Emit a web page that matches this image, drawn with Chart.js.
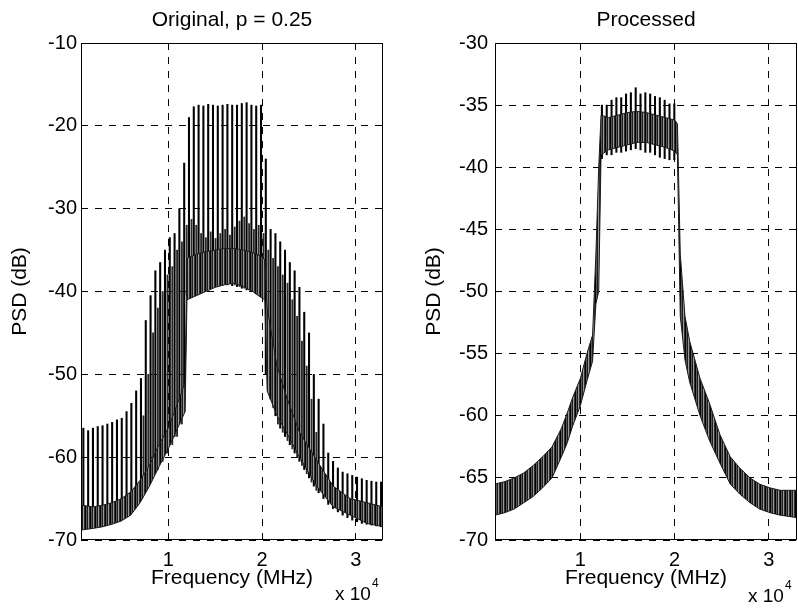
<!DOCTYPE html>
<html><head><meta charset="utf-8">
<script src="https://cdn.jsdelivr.net/npm/chart.js@4.4.1/dist/chart.umd.min.js"></script>
<style>
html,body{margin:0;padding:0;background:#fff;}
#w{position:relative;width:798px;height:609px;overflow:hidden;background:#fff}
.c{position:absolute;top:0;height:609px}
</style></head><body>
<div id="w">
<div class="c" style="left:0;width:400px"><canvas id="c1"></canvas></div>
<div class="c" style="left:400px;width:398px"><canvas id="c2"></canvas></div>
</div>
<script>
// ---- tick labels ----
const freqTicks = [10000, 20000, 30000];
const freqTickLabels = ['1', '2', '3'];
const origYTicks = [-70, -60, -50, -40, -30, -20, -10];
const procYTicks = [-70, -65, -60, -55, -50, -45, -40, -35, -30];

// ---- Original, p = 0.25 : dense noise band (lower / upper envelope) ----
const origBandFreq = [700, 2000, 3000, 4000, 5000, 6000, 7000, 8000, 9000, 10000, 11000, 11800, 12000, 13000, 14000, 15000, 16000, 17000, 18000, 19000, 20000, 20300, 20550, 21600, 22700, 24000, 25900, 27600, 29400, 31200, 32900];
const origBandLow  = [-68.8, -68.6, -68.4, -68.1, -67.7, -67.0, -65.5, -63.5, -61.2, -59.0, -56.5, -54.5, -41.0, -40.5, -40.0, -39.5, -39.2, -39.0, -39.4, -40.0, -40.8, -41.0, -52.0, -55.0, -57.2, -60.0, -63.6, -66.0, -67.0, -68.0, -68.4];
const origBandHigh = [-65.8, -66.0, -65.8, -65.5, -65.0, -64.2, -62.8, -61.0, -58.5, -56.5, -53.5, -51.0, -36.0, -35.5, -35.2, -35.0, -34.8, -34.8, -35.0, -35.3, -35.8, -36.2, -42.0, -49.0, -53.0, -57.0, -60.5, -63.5, -65.0, -65.5, -66.0];

// ---- Original : periodic spikes ----
const origSpikeFreq = [1024, 1536, 2048, 2560, 3072, 3584, 4096, 4608, 5120, 5632, 6144, 6656, 7168, 7680, 8192, 8704, 9216, 9728, 10240, 10752, 11264, 11776, 12288, 12800, 13312, 13824, 14336, 14848, 15360, 15872, 16384, 16896, 17408, 17920, 18432, 18944, 19456, 19968, 20480, 20992, 21504, 22016, 22528, 23040, 23552, 24064, 24576, 25088, 25600, 26112, 26624, 27136, 27648, 28160, 28672, 29184, 29696, 30208, 30720, 31232, 31744, 32256, 32768];
const origSpikeTop = [-56.5, -56.8, -56.5, -56.3, -56.2, -56.0, -55.8, -55.5, -55.3, -54.5, -53.5, -52.0, -50.5, -43.5, -40.5, -37.5, -36.5, -35.0, -33.5, -33.0, -30.0, -24.5, -19.0, -17.7, -17.5, -17.6, -17.4, -17.5, -17.6, -17.5, -17.4, -17.5, -17.5, -17.3, -17.2, -17.5, -17.6, -17.5, -24.0, -32.5, -33.0, -34.0, -35.0, -36.5, -37.5, -39.5, -42.5, -45.0, -50.0, -53.0, -56.0, -59.5, -60.5, -61.3, -61.8, -62.0, -62.2, -62.4, -62.6, -62.8, -62.9, -63.0, -63.0];
const origSpikeLow = [-68.5, -68.4, -68.4, -68.2, -68.0, -67.8, -67.6, -67.2, -66.8, -66.5, -66.0, -65.0, -64.5, -63.5, -62.5, -61.5, -60.5, -59.5, -58.5, -57.5, -56.0, -54.5, -40.5, -40.2, -40.0, -39.8, -39.6, -39.4, -39.3, -39.2, -39.2, -39.3, -39.4, -39.6, -39.8, -40.0, -40.3, -40.6, -50.0, -53.0, -55.0, -56.5, -57.5, -58.5, -59.5, -60.5, -61.5, -62.5, -63.5, -64.3, -65.0, -65.7, -66.2, -66.6, -67.0, -67.3, -67.6, -67.8, -68.0, -68.1, -68.2, -68.3, -68.4];

// ---- Original : secondary spikes (in-band and on the skirts) ----
const origMidFreq = [7424, 7936, 8448, 8960, 9472, 9984, 10496, 11008, 11520, 12032, 12544, 13056, 13568, 14080, 14592, 15104, 15616, 16128, 16640, 17152, 17664, 18176, 18688, 19200, 19712, 20224, 20736, 21248, 21760, 22272, 22784, 23296, 23808, 24320, 24832, 25344, 25856];
const origMidTop = [-55.0, -50.0, -45.0, -42.0, -40.0, -38.0, -37.0, -35.0, -34.0, -32.0, -31.3, -32.0, -33.0, -33.5, -32.8, -33.6, -33.0, -32.5, -33.2, -32.2, -31.5, -31.0, -31.8, -32.5, -32.0, -33.0, -35.0, -36.0, -37.0, -38.0, -39.0, -41.0, -43.0, -46.0, -49.0, -53.0, -57.0];
const origMidLow = [-64.5, -63.5, -62.5, -61.5, -60.5, -59.5, -58.5, -57.5, -56.0, -40.5, -40.2, -40.0, -39.8, -39.6, -39.4, -39.2, -39.0, -39.0, -39.0, -39.2, -39.4, -39.6, -39.8, -40.0, -40.3, -40.6, -51.5, -54.0, -56.0, -57.0, -58.0, -59.0, -60.0, -61.0, -62.0, -63.0, -64.0];

// ---- Processed : dense noise band ----
const procBandFreq = [950, 2000, 3000, 4000, 5000, 6000, 7000, 8000, 8600, 9200, 10000, 10700, 11300, 11650, 11950, 12200, 13000, 14000, 15000, 16000, 17000, 18000, 19000, 20000, 20300, 20600, 21100, 21600, 22700, 23700, 24800, 25900, 26900, 28000, 29000, 30100, 31200, 32980];
const procBandLow  = [-68.0, -67.8, -67.5, -67.0, -66.5, -65.8, -65.0, -63.3, -62.2, -60.8, -59.2, -57.2, -55.6, -51.0, -50.0, -39.0, -38.6, -38.4, -38.2, -38.0, -38.0, -38.2, -38.4, -38.7, -39.0, -52.0, -55.5, -57.3, -60.0, -62.0, -63.8, -65.5, -66.3, -67.0, -67.5, -67.8, -68.0, -68.2];
const procBandHigh = [-65.5, -65.3, -65.0, -64.6, -64.0, -63.3, -62.5, -61.0, -59.8, -58.5, -57.0, -55.0, -53.5, -47.0, -40.0, -35.8, -36.0, -35.8, -35.6, -35.5, -35.6, -35.8, -36.0, -36.2, -36.5, -47.0, -52.0, -54.0, -57.0, -59.0, -61.5, -63.3, -64.2, -65.0, -65.5, -65.8, -66.0, -66.0];

// ---- Processed : in-band spikes ----
const procSpikeFreq = [12288, 12800, 13312, 13824, 14336, 14848, 15360, 15872, 16384, 16896, 17408, 17920, 18432, 18944, 19456, 19968];
const procSpikeTop = [-35.0, -35.0, -34.6, -34.4, -34.4, -34.1, -34.0, -33.6, -34.1, -34.0, -34.1, -34.3, -34.4, -34.6, -34.9, -34.9];
const procSpikeLow = [-39.3, -39.0, -39.0, -38.8, -38.8, -38.7, -38.6, -38.5, -38.6, -38.8, -38.8, -39.0, -39.2, -39.3, -39.4, -39.4];

Chart.defaults.font.family = "'Liberation Sans', Arial, Helvetica, sans-serif";
Chart.defaults.color = '#000';

const pts = (xs, ys) => xs.map((x, i) => ({x: x, y: ys[i]}));
const bars = (xs, lo, hi) => xs.map((x, i) => ({x: x, y: [lo[i], hi[i]]}));

// vertical-line texture used as the fill style of the noise band
function stripePattern() {
  const c = document.createElement('canvas');
  c.width = 5; c.height = 4;
  const g = c.getContext('2d');
  const cols = ['#000', '#5a5a5a', '#1c1c1c', '#9a9a9a', '#303030'];
  cols.forEach((col, i) => { g.fillStyle = col; g.fillRect(i, 0, 1, 4); });
  return g.createPattern(c, 'repeat');
}
const bandFill = stripePattern();

const boxPlugin = {
  id: 'boxPlugin',
  afterDraw(chart) {
    const a = chart.chartArea, ctx = chart.ctx;
    ctx.save();
    ctx.strokeStyle = '#000'; ctx.lineWidth = 1; ctx.setLineDash([]);
    const l = Math.round(a.left) + 0.5, t = Math.round(a.top) + 0.5;
    const r = Math.round(a.right) - 0.5, b = Math.round(a.bottom) - 0.5;
    ctx.strokeRect(l, t, r - l, b - t);
    ctx.restore();
  }
};
const expPlugin = {
  id: 'expLabel',
  afterDraw(chart, args, opts) {
    const ctx = chart.ctx;
    ctx.save();
    ctx.fillStyle = '#000'; ctx.textAlign = 'left'; ctx.textBaseline = 'middle';
    ctx.font = "19px 'Liberation Sans', Arial, sans-serif";
    ctx.fillText('x 10', opts.x, opts.y);
    const w = ctx.measureText('x 10').width;
    ctx.font = "12px 'Liberation Sans', Arial, sans-serif";
    ctx.fillText('4', opts.x + w + 1, opts.y - 11);
    ctx.restore();
  }
};

function build(id, o) {
  const datasets = [
    {type: 'line', data: pts(o.bf, o.bl), borderColor: '#1a1a1a', borderWidth: 1, pointRadius: 0, fill: false, tension: 0},
    {type: 'line', data: pts(o.bf, o.bh), borderColor: '#1a1a1a', borderWidth: 1, pointRadius: 0, fill: '-1', backgroundColor: bandFill, tension: 0}
  ];
  o.spikes.forEach(s => datasets.push({
    type: 'bar', data: bars(s.f, s.lo, s.hi), backgroundColor: s.color,
    barThickness: s.w, borderWidth: 0, stack: 'sp'
  }));
  return new Chart(document.getElementById(id), {
    type: 'bar',
    data: {datasets: datasets},
    options: {
      responsive: true, maintainAspectRatio: false, animation: false, events: [],
      layout: {padding: {left: 0, right: o.padRight, top: 0, bottom: 0}},
      plugins: {
        legend: {display: false}, tooltip: {enabled: false},
        title: {display: true, text: o.title, fullSize: false, color: '#000',
          font: {size: 21, weight: 'normal'}, padding: {top: 8, bottom: 9.8}},
        expLabel: {x: o.expX, y: o.expY}
      },
      scales: {
        x: {
          type: 'linear', min: o.xmin, max: o.xmax, offset: false, stacked: false, z: 1,
          afterBuildTicks: s => { s.ticks = freqTicks.map(v => ({value: v})); },
          afterFit: s => { s.height = 69; },
          ticks: {padding: 8, font: {size: 20}, color: '#000', maxRotation: 0,
            callback: (v) => freqTickLabels[freqTicks.indexOf(v)]},
          grid: {display: true, color: '#000', lineWidth: 1, drawTicks: false, offset: false},
          border: {display: false, dash: [7, 7]},
          title: {display: true, text: 'Frequency (MHz)', color: '#000', font: {size: 21}, padding: {top: 0, bottom: 18}}
        },
        y: {
          type: 'linear', min: o.ymin, max: o.ymax, stacked: false, z: 1,
          afterBuildTicks: s => { s.ticks = o.yTicks.map(v => ({value: v})); },
          afterFit: s => { s.width = o.yWidth; },
          ticks: {padding: o.yPad, font: {size: 20}, color: '#000', callback: v => String(v)},
          grid: {display: true, color: '#000', lineWidth: 1, drawTicks: false},
          border: {display: false, dash: [7, 7]},
          title: {display: true, text: 'PSD (dB)', color: '#000', font: {size: 21}, padding: {top: o.yTitlePad, bottom: 0}}
        }
      }
    },
    plugins: [boxPlugin, expPlugin]
  });
}

build('c1', {
  title: 'Original, p = 0.25', xmin: 700, xmax: 32900, ymin: -70, ymax: -10, yTicks: origYTicks,
  yWidth: 81, yPad: 4, yTitlePad: 7.4, padRight: 17, expX: 335, expY: 595,
  bf: origBandFreq, bl: origBandLow, bh: origBandHigh,
  spikes: [
    {f: origSpikeFreq, lo: origSpikeLow, hi: origSpikeTop, color: '#000', w: 1.4},
    {f: origMidFreq, lo: origMidLow, hi: origMidTop, color: '#2a2a2a', w: 1.2}
  ]
});
build('c2', {
  title: 'Processed', xmin: 950, xmax: 32980, ymin: -70, ymax: -30, yTicks: procYTicks,
  yWidth: 95, yPad: 7, yTitlePad: 21.9, padRight: 1, expX: 348, expY: 597,
  bf: procBandFreq, bl: procBandLow, bh: procBandHigh,
  spikes: [
    {f: procSpikeFreq, lo: procSpikeLow, hi: procSpikeTop, color: '#000', w: 1.4}
  ]
});
</script>
</body></html>
